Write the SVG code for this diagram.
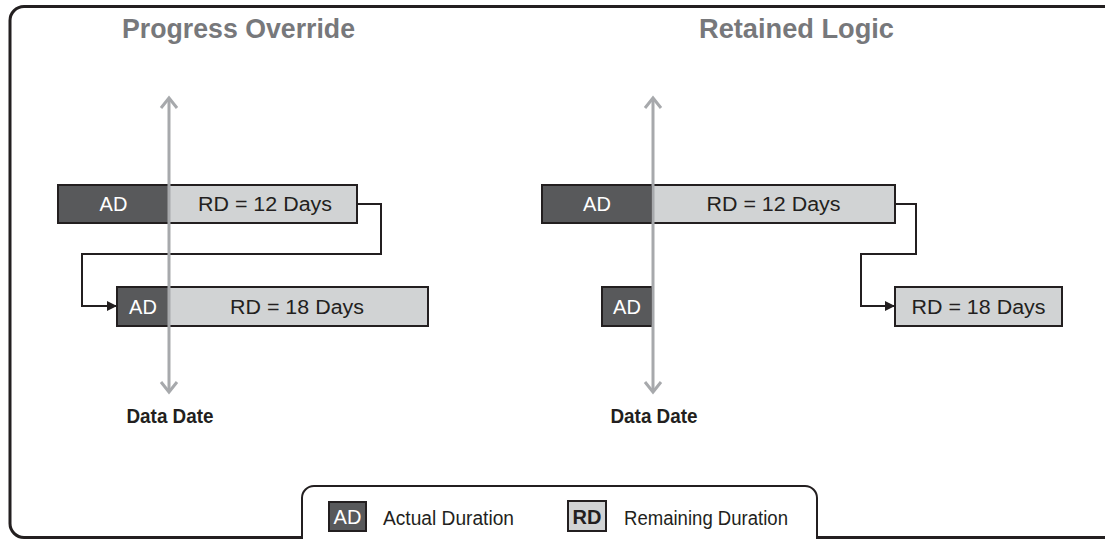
<svg xmlns="http://www.w3.org/2000/svg" width="1105" height="539" viewBox="0 0 1105 539">
<style>
.title{font-family:"Liberation Sans",Arial,sans-serif;font-weight:bold;font-size:28px;fill:#77787b;text-anchor:middle}
.ad{fill:#58595b;stroke:#231f20;stroke-width:2}
.rd{fill:#d1d3d4;stroke:#231f20;stroke-width:2}
.adt{font-family:"Liberation Sans",Arial,sans-serif;font-size:20px;fill:#ffffff;text-anchor:middle}
.rdt{font-family:"Liberation Sans",Arial,sans-serif;font-size:20px;fill:#231f20;text-anchor:middle}
.dd{stroke:#a7a9ac;stroke-width:3;fill:none}
.ddt{font-family:"Liberation Sans",Arial,sans-serif;font-weight:bold;font-size:20px;fill:#231f20;text-anchor:middle}
.conn{stroke:#231f20;stroke-width:2;fill:none}
.leg{font-family:"Liberation Sans",Arial,sans-serif;font-size:20px;fill:#231f20}
</style>
<defs>
<marker id="arr" viewBox="0 0 10 10" refX="10" refY="5" markerWidth="10" markerHeight="10" markerUnits="userSpaceOnUse" orient="auto">
<path d="M0,0 L10,5 L0,10 Z" fill="#231f20"/>
</marker>
</defs>
<rect x="10" y="6.5" width="1110" height="531" rx="14" fill="#ffffff" stroke="#231f20" stroke-width="3"/>

<g id="title-left"><text class="title" x="238.5" y="38" textLength="233" lengthAdjust="spacingAndGlyphs">Progress Override</text></g>
<g id="title-right"><text class="title" x="796.5" y="38" textLength="195" lengthAdjust="spacingAndGlyphs">Retained Logic</text></g>

<g id="connectors">
<polyline class="conn" points="357,204 381,204 381,254 82,254 82,306 117,306" marker-end="url(#arr)"/>
<polyline class="conn" points="895,204 916,204 916,254 861,254 861,306 895,306" marker-end="url(#arr)"/>
</g>

<g id="left-bar1">
<rect class="ad" x="58" y="185" width="111" height="38"/>
<rect class="rd" x="169" y="185" width="188" height="38"/>
<text class="adt" x="113.5" y="211">AD</text>
<text class="rdt" x="265" y="211" textLength="134" lengthAdjust="spacingAndGlyphs">RD = 12 Days</text>
</g>
<g id="left-bar2">
<rect class="ad" x="117" y="287" width="52" height="39"/>
<rect class="rd" x="169" y="287" width="259" height="39"/>
<text class="adt" x="143" y="313.5">AD</text>
<text class="rdt" x="297" y="313.5" textLength="134" lengthAdjust="spacingAndGlyphs">RD = 18 Days</text>
</g>

<g id="right-bar1">
<rect class="ad" x="542" y="185" width="110" height="38"/>
<rect class="rd" x="652" y="185" width="243" height="38"/>
<text class="adt" x="597" y="211">AD</text>
<text class="rdt" x="773.5" y="211" textLength="134" lengthAdjust="spacingAndGlyphs">RD = 12 Days</text>
</g>
<g id="right-bar2-ad">
<rect class="ad" x="602" y="287" width="50" height="39"/>
<text class="adt" x="627" y="313.5">AD</text>
</g>
<g id="right-bar2-rd">
<rect class="rd" x="895" y="287" width="167" height="39"/>
<text class="rdt" x="978.5" y="313.5" textLength="134" lengthAdjust="spacingAndGlyphs">RD = 18 Days</text>
</g>

<g id="datadate-left">
<line class="dd" x1="169" y1="98" x2="169" y2="392"/>
<polyline class="dd" points="161,108 169,98 177,108"/>
<polyline class="dd" points="161,382 169,392 177,382"/>
<text class="ddt" x="170" y="423" textLength="87" lengthAdjust="spacingAndGlyphs">Data Date</text>
</g>
<g id="datadate-right">
<line class="dd" x1="653" y1="98" x2="653" y2="392"/>
<polyline class="dd" points="645,108 653,98 661,108"/>
<polyline class="dd" points="645,382 653,392 661,382"/>
<text class="ddt" x="654" y="423" textLength="87" lengthAdjust="spacingAndGlyphs">Data Date</text>
</g>

<g id="legend">
<rect x="302" y="486" width="515" height="80" rx="12" fill="#ffffff" stroke="#231f20" stroke-width="2"/>
<rect class="ad" x="329" y="502" width="37" height="29"/>
<text class="adt" x="347.5" y="524">AD</text>
<text class="leg" x="383" y="525" textLength="131" lengthAdjust="spacingAndGlyphs">Actual Duration</text>
<rect class="rd" x="568" y="501" width="38" height="30"/>
<text class="rdt" x="587" y="524" font-weight="bold">RD</text>
<text class="leg" x="624" y="525" textLength="164" lengthAdjust="spacingAndGlyphs">Remaining Duration</text>
</g>
</svg>
